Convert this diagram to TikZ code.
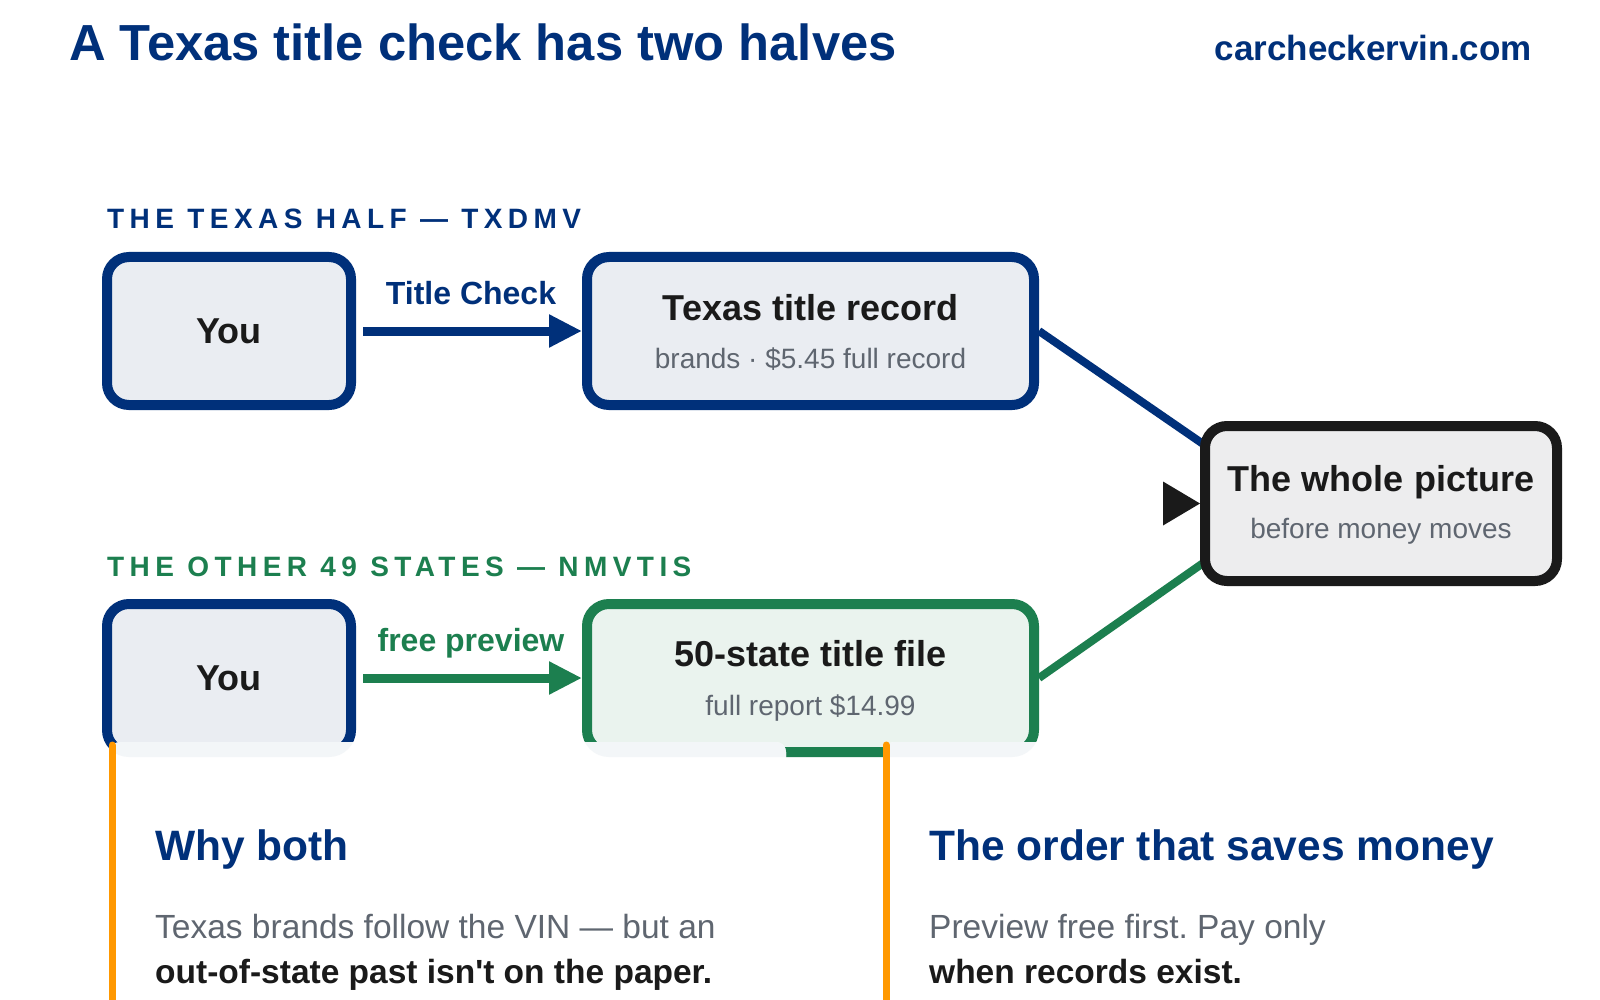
\documentclass[tikz,border=0pt]{standalone}
\usepackage{fontspec}
\setmainfont{Liberation Sans}
\frenchspacing
\usetikzlibrary{calc,arrows.meta}

\definecolor{navy}{HTML}{00307A}
\definecolor{leaf}{HTML}{1C7F4F}
\definecolor{ink}{HTML}{1A1A1A}
\definecolor{subgray}{HTML}{5F6670}
\definecolor{boxfill}{HTML}{EAEDF2}
\definecolor{leaffill}{HTML}{EAF3EE}
\definecolor{wholefill}{HTML}{EDEDEE}
\definecolor{cardtint}{HTML}{F3F6F8}
\definecolor{amber}{HTML}{FF9800}

\begin{document}
\begin{tikzpicture}[x=1pt,y=-1pt,
    box/.style={draw=navy, line width=10pt, fill=boxfill, rounded corners=22pt,
        minimum width=244pt, minimum height=148pt, inner sep=0pt},
    head/.style={anchor=base, text=ink, font=\fontsize{36}{43}\selectfont\bfseries},
    sub/.style={anchor=base, text=subgray, font=\fontsize{28}{34}\selectfont},
    lane/.style={anchor=base west, inner sep=0pt, font=\fontsize{28}{34}\selectfont\bfseries\addfontfeature{LetterSpace=19.5}},
    flow/.style={line width=9pt, shorten <=7pt, -{Triangle[length=33pt,width=31pt]}},
    feed/.style={line width=8pt},
    card/.style={fill=white, rounded corners=10pt},
    cardhead/.style={anchor=base west, inner sep=0pt, text=navy, font=\fontsize{42.5}{50}\selectfont\bfseries},
    body/.style={anchor=base west, inner sep=0pt, text=subgray, font=\fontsize{33.5}{40}\selectfont},
    bodybold/.style={anchor=base west, inner sep=0pt, text=ink, font=\fontsize{33.5}{40}\selectfont\bfseries}]
    \useasboundingbox[fill=white] (0,0) rectangle (1600,1000);

    % heading and site
    \node[anchor=base west, inner sep=0pt, text=navy, font=\fontsize{50.7}{60}\selectfont\bfseries] (title) at (69,61) {A Texas title check has two halves};
    \node[anchor=base east, inner sep=0pt, text=navy, font=\fontsize{35}{42}\selectfont\bfseries] (site) at (1532,61) {carcheckervin.com};

    % lane labels
    \node[lane, text=navy] (lane1) at (107,229) {THE TEXAS HALF — TXDMV};
    \node[lane, text=leaf] (lane2) at (107,576) {THE OTHER 49 STATES — NMVTIS};

    % top row: Texas half
    \node[box] (you1) at (229,331) {};
    \node[head] (you1-t) at ($(you1)+(0,12)$) {You};
    \node[box, minimum width=447pt] (rec) at (810.5,331) {};
    \node[head] (rec-t) at ($(rec)+(0,-11)$) {Texas title record};
    \node[sub] (rec-s) at ($(rec)+(0,37)$) {brands · \$5.45 full record};
    \draw[flow, navy] (you1) -- (rec);
    \node[anchor=base, text=navy, font=\fontsize{32}{38}\selectfont\bfseries] (check) at (471,304) {Title Check};

    % second row: other 49 states
    \node[box] (you2) at (229,678) {};
    \node[head] (you2-t) at ($(you2)+(0,12)$) {You};
    \node[box, draw=leaf, fill=leaffill, minimum width=447pt] (file) at (810.5,678) {};
    \node[head] (file-t) at ($(file)+(0,-12)$) {50-state title file};
    \node[sub] (file-s) at ($(file)+(0,37)$) {full report \$14.99};
    \draw[flow, leaf] (you2) -- (file);
    \node[anchor=base, text=leaf, font=\fontsize{32}{38}\selectfont\bfseries] (preview) at (471,651) {free preview};

    % both halves feed the result box
    \coordinate (inA) at (1206,446);
    \coordinate (inB) at (1206,561);
    \draw[feed, navy] (rec.east) -- (inA);
    \draw[feed, leaf] (file.east) -- (inB);
    \node[box, draw=ink, fill=wholefill, minimum width=352pt, minimum height=155pt] (whole) at (1381,503.5) {};
    \node[head] (whole-t) at ($(whole)+(0,-12)$) {The whole picture};
    \node[sub] (whole-s) at ($(whole)+(0,35)$) {before money moves};
    \fill[ink] (whole.west) -- ++(-37,-22) -- ++(0,44) -- cycle;

    % two cards at the bottom, the boxes show faintly through them
    \path[card] (110,742) rectangle (786,1020);
    \path[card] (884,742) rectangle (1562,1020);
    \begin{scope}
        \clip[rounded corners=10pt] (110,742) rectangle (786,1020) (884,742) rectangle (1562,1020);
        \fill[cardtint, rounded corners=27pt] (you2.north west) rectangle (you2.south east);
        \fill[cardtint, rounded corners=27pt] (file.north west) rectangle (file.south east);
    \end{scope}
    \draw[amber, line width=7pt, line cap=round] (112,745) -- (112,1010);
    \draw[amber, line width=7pt, line cap=round] (886,745) -- (886,1010);

    \node[cardhead] (why) at (155,860) {Why both};
    \node[body] (why-a) at (155,938) {Texas brands follow the VIN — but an};
    \node[bodybold] (why-b) at (155,983) {out-of-state past isn\textquotesingle t on the paper.};
    \node[cardhead] (order) at (929,860) {The order that saves money};
    \node[body] (order-a) at (929,938) {Preview free first. Pay only};
    \node[bodybold] (order-b) at (929,983) {when records exist.};
\end{tikzpicture}
\end{document}
